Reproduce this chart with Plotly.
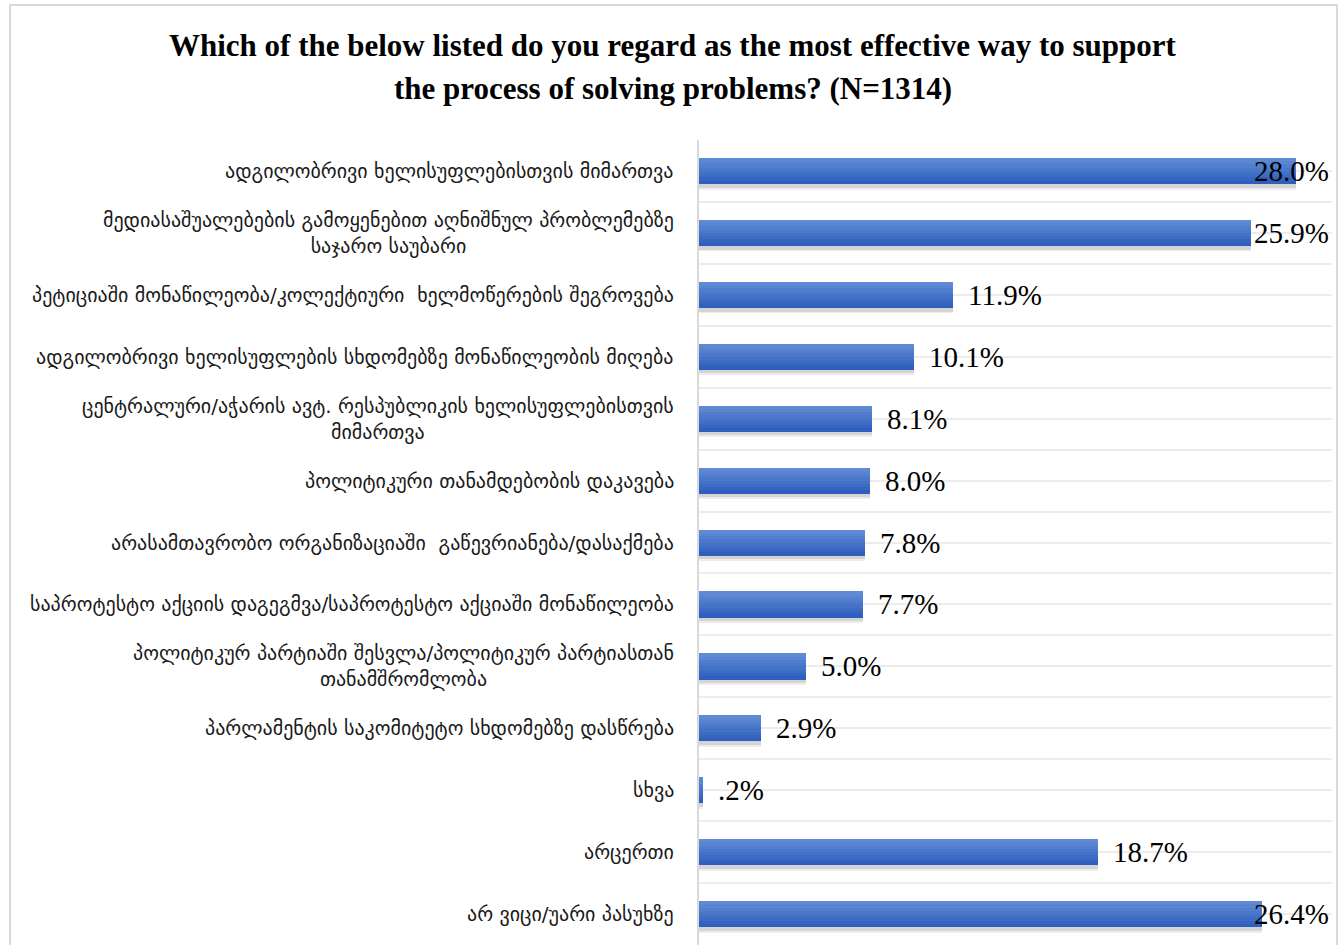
import plotly.graph_objects as go

categories = [
    "ადგილობრივი ხელისუფლებისთვის მიმართვა",
    "მედიასაშუალებების გამოყენებით აღნიშნულ პრობლემებზე<br>საჯარო საუბარი",
    "პეტიციაში მონაწილეობა/კოლექტიური  ხელმოწერების შეგროვება",
    "ადგილობრივი ხელისუფლების სხდომებზე მონაწილეობის მიღება",
    "ცენტრალური/აჭარის ავტ. რესპუბლიკის ხელისუფლებისთვის<br>მიმართვა",
    "პოლიტიკური თანამდებობის დაკავება",
    "არასამთავრობო ორგანიზაციაში  გაწევრიანება/დასაქმება",
    "საპროტესტო აქციის დაგეგმვა/საპროტესტო აქციაში მონაწილეობა",
    "პოლიტიკურ პარტიაში შესვლა/პოლიტიკურ პარტიასთან<br>თანამშრომლობა",
    "პარლამენტის საკომიტეტო სხდომებზე დასწრება",
    "სხვა",
    "არცერთი",
    "არ ვიცი/უარი პასუხზე",
]
values = [28.0, 25.9, 11.9, 10.1, 8.1, 8.0, 7.8, 7.7, 5.0, 2.9, 0.2, 18.7, 26.4]
title_lines = [
    "Which of the below listed do you regard as the most effective way to support",
    "the process of solving problems? (N=1314)",
]

W, H = 1342, 945
ML, MR, MT, MB = 699, 10, 140, 0
XMAX = 29.7
BARW = 0.42
n = len(categories)
ys = list(range(n))
plot_w = W - ML - MR
plot_h = H - MT - MB
px_per = plot_w / XMAX


def px_to_xpaper(px):
    return (px - ML) / plot_w


def px_to_ypaper(py):
    return (H - MB - py) / plot_h


def fmt(v):
    s = f"{v:.1f}%"
    return s[1:] if s.startswith("0") else s


fig = go.Figure()

# soft shadow
for off, alpha in [(0.09, 0.07), (0.06, 0.10)]:
    fig.add_trace(go.Bar(
        x=values, y=ys, orientation="h", width=BARW, offset=-BARW / 2 + off,
        marker=dict(color=f"rgba(0,0,0,{alpha})", line=dict(width=0)),
        hoverinfo="skip", showlegend=False,
    ))
# gradient strips
top = (96, 139, 212)
bot = (47, 95, 190)
NS = 8
for i in range(NS):
    t = i / (NS - 1)
    c = tuple(round(top[k] + (bot[k] - top[k]) * t) for k in range(3))
    fig.add_trace(go.Bar(
        x=values, y=ys, orientation="h", width=BARW / NS + 0.003,
        offset=-BARW / 2 + i * BARW / NS,
        marker=dict(color=f"rgb{c}", line=dict(width=0)),
        hoverinfo="skip", showlegend=False,
    ))

annotations = []
# category labels
for y, lab in zip(ys, categories):
    annotations.append(dict(
        x=0, xref="paper", y=y, yref="y", text=lab, showarrow=False,
        xanchor="right", yanchor="middle", align="center", xshift=-23,
        font=dict(family="DejaVu Sans", size=20, color="#1a1a1a"),
    ))
# value labels
RIGHT_LIMIT = 1331
VFONT = dict(family="Liberation Serif", size=29, color="#000000")
for y, v in zip(ys, values):
    txt = fmt(v)
    est_w = sum(7 if ch == "." else 24 if ch == "%" else 14.5 for ch in txt)
    end_px = ML + v * px_per + 13 + est_w
    if end_px > RIGHT_LIMIT:
        annotations.append(dict(
            x=px_to_xpaper(RIGHT_LIMIT), xref="paper", y=y, yref="y", text=txt,
            showarrow=False, xanchor="right", yanchor="middle", font=VFONT,
        ))
    else:
        annotations.append(dict(
            x=v, xref="x", y=y, yref="y", text=txt, showarrow=False,
            xanchor="left", yanchor="middle", xshift=13, font=VFONT,
        ))
# title
for i, line in enumerate(title_lines):
    annotations.append(dict(
        x=px_to_xpaper(673), xref="paper", y=px_to_ypaper(46 + 42 * i), yref="paper",
        xanchor="center", yanchor="middle",
        text=f"<b>{line}</b>", showarrow=False,
        font=dict(family="Liberation Serif", size=31, color="#000000"),
    ))

fig.update_layout(
    width=W, height=H,
    margin=dict(l=ML, r=MR, t=MT, b=MB),
    barmode="overlay", bargap=0,
    plot_bgcolor="white", paper_bgcolor="white",
    xaxis=dict(range=[0, XMAX], showgrid=False, zeroline=False, showticklabels=False,
               showline=False, fixedrange=True),
    yaxis=dict(range=[n - 0.5, -0.5], tick0=-0.5, dtick=0.5, showgrid=True,
               gridcolor="#ececec", gridwidth=2, showticklabels=False, zeroline=False,
               showline=True, linecolor="#d9d9d9", linewidth=2, ticks=""),
    annotations=annotations,
    shapes=[dict(type="rect", xref="paper", yref="paper",
                 x0=px_to_xpaper(10), x1=px_to_xpaper(1337),
                 y0=px_to_ypaper(960), y1=px_to_ypaper(5),
                 line=dict(color="#d9d9d9", width=2), layer="below")],
)

fig.write_html(
    "out.html",
    config={"displayModeBar": False},
    post_script="document.body.style.margin='0';document.body.style.overflow='hidden';",
)
